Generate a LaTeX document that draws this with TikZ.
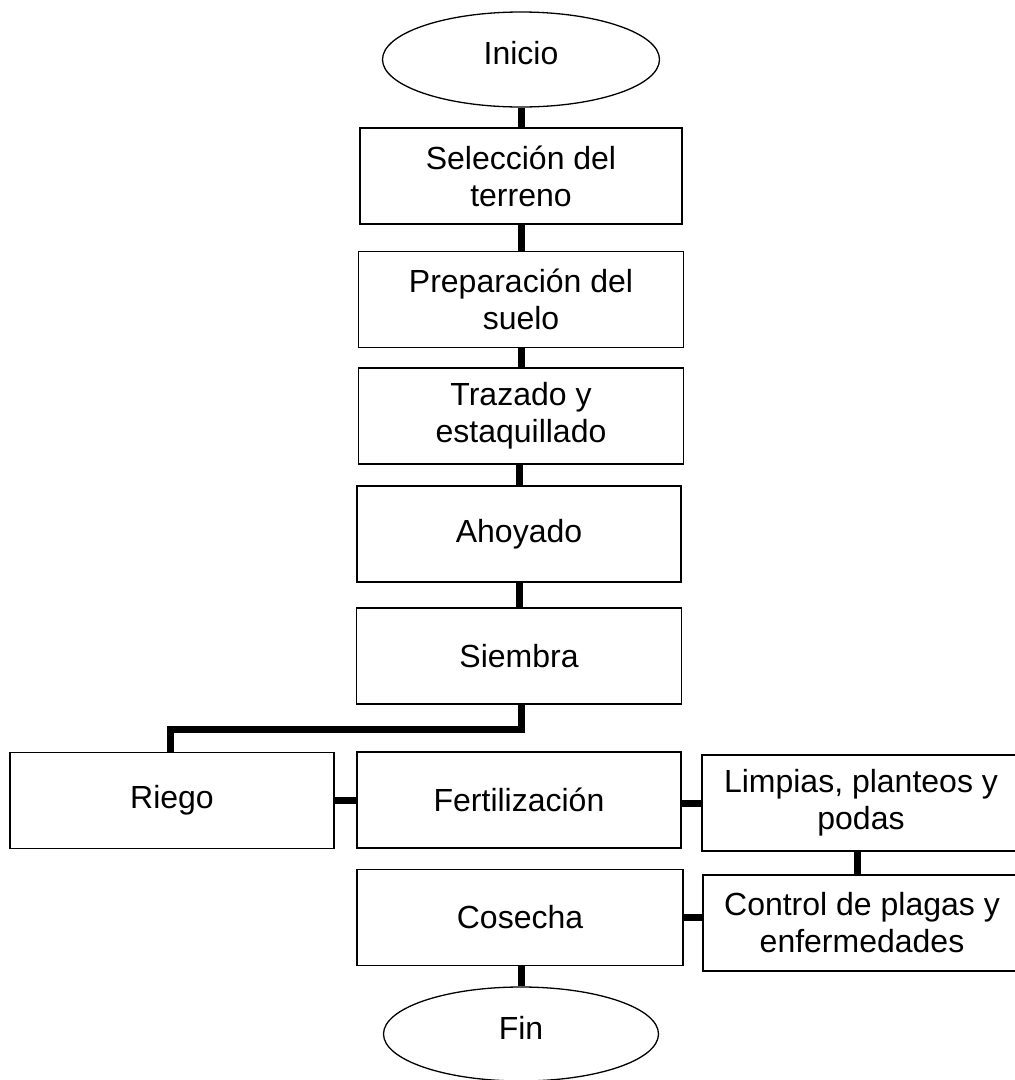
\documentclass[tikz,border=0pt]{standalone}
\usepackage{fontspec}
\setmainfont{Liberation Sans}
\usetikzlibrary{shapes.geometric}
\begin{document}
\begin{tikzpicture}[x=1pt,y=-1pt,
  every node/.style={font=\fontsize{32}{37}\selectfont, align=center, inner sep=0pt},
  stepbox/.style={draw=black, line width=1.6pt, rectangle, minimum width=#1, minimum height=96pt},
  stepbox/.default=325pt,
  term/.style={draw=black, line width=1.3pt, ellipse, minimum width=277pt, minimum height=95pt, text depth=13pt},
  conn/.style={line width=7pt, line join=miter, line cap=butt}]
\clip (0,0) rectangle (1015,1080);
\fill[white] (0,0) rectangle (1015,1080);
% nodes
\node[term] (inicio) at (521,59.5) {Inicio};
\node[stepbox=322pt] (sel) at (521,176) {Selección del\\terreno};
\node[stepbox] (prep) at (521,299.5) {Preparación del\\suelo};
\node[stepbox] (traz) at (521,416) {Trazado y\\estaquillado};
\node[stepbox=324pt] (ahoy) at (519,534) {Ahoyado};
\node[stepbox] (siem) at (519,656) {Siembra};
\node[stepbox=324pt] (riego) at (172,800.5) {Riego};
\node[stepbox=324pt] (fert) at (519,800) {Fertilización};
\node[stepbox=318pt] (limp) at (861,803) {Limpias, planteos y\\podas};
\node[stepbox=326pt] (cos) at (520,917.5) {Cosecha};
\node[stepbox=318pt] (ctrl) at (862,923) {Control de plagas y\\enfermedades};
\node[term, minimum width=275pt, minimum height=94pt] (fin) at (521,1034) {Fin};
% connectors
\coordinate (j1) at (521,729);
\draw[conn] (inicio.south) -- (sel.north);
\draw[conn] (sel.south) -- (prep.north);
\draw[conn] (prep.south) -- (traz.north);
\draw[conn] (traz.south -| ahoy.north) -- (ahoy.north);
\draw[conn] (ahoy.south) -- (siem.north);
\draw[conn] (siem.south -| j1) -- (j1) -| (riego.north -| 170,0);
\draw[conn] (riego.east) -- (fert.west |- riego.east);
\draw[conn] (fert.east |- limp.west) -- (limp.west);
\draw[conn] (limp.south -| 857,0) -- (ctrl.north -| 857,0);
\draw[conn] (cos.east) -- (ctrl.west |- cos.east);
\draw[conn] (cos.south -| 521,0) -- (fin.north);
\end{tikzpicture}
\end{document}
